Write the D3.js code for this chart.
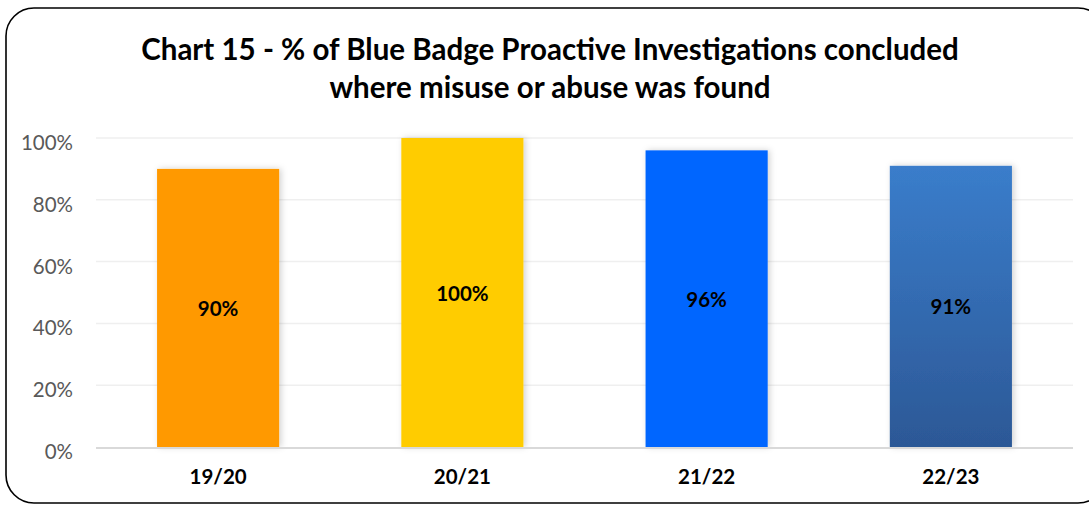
<!DOCTYPE html>
<html><head><meta charset="utf-8">
<script src="https://cdn.jsdelivr.net/npm/d3@7"></script>
<style>body{margin:0;background:#fff;} svg{display:block;}</style>
</head><body>
<script>
const categories = ["19/20", "20/21", "21/22", "22/23"];
const values = [90, 100, 96, 91];
const labels = ["90%", "100%", "96%", "91%"];
const yTicks = [0, 20, 40, 60, 80, 100];
const titleLines = ["Chart 15 - % of Blue Badge Proactive Investigations concluded", "where misuse or abuse was found"];
const colors = ["#FF9900", "#FFCC00", "#0066FF", null];

const W = 1089, H = 506;
const font = "Lato, 'Open Sans', sans-serif";
const svg = d3.select("body").append("svg").attr("width", W).attr("height", H);
const defs = svg.append("defs");
const grad = defs.append("linearGradient").attr("id","g4").attr("x1",0).attr("y1",0).attr("x2",0).attr("y2",1);
grad.append("stop").attr("offset","0%").attr("stop-color","#3A7DCB");
grad.append("stop").attr("offset","100%").attr("stop-color","#2C5896");
const f = defs.append("filter").attr("id","sh").attr("x","-10%").attr("y","-5%").attr("width","125%").attr("height","110%");
f.append("feDropShadow").attr("dx",2).attr("dy",0).attr("stdDeviation",3).attr("flood-color","#000").attr("flood-opacity",0.18);

svg.append("rect").attr("x",6).attr("y",8).attr("width",1100).attr("height",495).attr("rx",28).attr("ry",28)
  .attr("fill","#fff").attr("stroke","#000").attr("stroke-width",1.6);

svg.append("g").selectAll("text").data(titleLines).join("text")
  .attr("x",550).attr("y",(d,i)=>60+i*38).attr("text-anchor","middle")
  .attr("font-family",font).attr("font-weight","bold").attr("font-size",29.5).attr("fill","#000").text(d=>d);

const x = d3.scaleBand().domain(categories).range([96,1073]).paddingInner(0.5).paddingOuter(0.25);
const y = d3.scaleLinear().domain([0,100]).range([447,138]);

const grid = svg.append("g");
grid.selectAll("line").data(yTicks.filter(d=>d>0)).join("line")
  .attr("x1",96).attr("x2",1073).attr("y1",d=>y(d)).attr("y2",d=>y(d))
  .attr("stroke","#EFEFEF").attr("stroke-width",1.5);

const yAxis = svg.append("g").attr("transform","translate(77,5)")
  .call(d3.axisLeft(y).tickValues(yTicks).tickFormat(d=>d+"%").tickSize(0).tickPadding(4));
yAxis.select(".domain").remove();
yAxis.selectAll("text").attr("font-family",font).attr("font-size",20.5).attr("fill","#595959");

svg.append("g").selectAll("rect").data(values).join("rect")
  .attr("x",(d,i)=>x(categories[i])).attr("width",x.bandwidth())
  .attr("y",d=>y(d)).attr("height",d=>y(0)-y(d))
  .attr("fill",(d,i)=>colors[i]||"url(#g4)").attr("filter","url(#sh)");

svg.append("line").attr("x1",96).attr("x2",1073).attr("y1",y(0)+1).attr("y2",y(0)+1)
  .attr("stroke","#D9D9D9").attr("stroke-width",2);

svg.append("g").selectAll("text").data(values).join("text")
  .attr("x",(d,i)=>x(categories[i])+x.bandwidth()/2).attr("y",d=>(y(d)+y(0))/2+8)
  .attr("text-anchor","middle").attr("font-family",font).attr("font-weight","bold").attr("font-size",20.5)
  .attr("fill","#000").text((d,i)=>labels[i]);

const xAxis = svg.append("g").attr("transform","translate(0,448)")
  .call(d3.axisBottom(x).tickSize(0).tickPadding(21));
xAxis.select(".domain").remove();
xAxis.selectAll("text").attr("font-family",font).attr("font-weight","bold").attr("font-size",20.5).attr("fill","#000");
</script>
</body></html>
